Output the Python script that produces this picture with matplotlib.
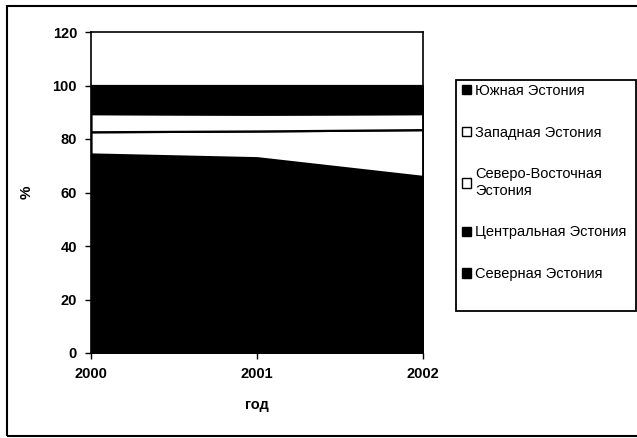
import numpy as np
import matplotlib.pyplot as plt
from matplotlib.patches import Patch, Rectangle

plt.rcParams['font.family'] = ['Liberation Sans', 'DejaVu Sans']

years = [2000, 2001, 2002]
regions = ['Северная Эстония', 'Центральная Эстония',
           'Северо-Восточная\nЭстония', 'Западная Эстония', 'Южная Эстония']
severnaya = [60.4, 59.5, 53.0]
centralnaya = [14.0, 13.5, 13.0]
severo_vostochnaya = [8.3, 10.0, 17.5]
zapadnaya = [6.8, 6.3, 6.0]
yuzhnaya = [10.5, 10.7, 10.5]
colors = ['black', 'black', 'white', 'white', 'black']

fig = plt.figure(figsize=(6.37, 4.38), dpi=100)
ax = fig.add_axes([91/637, 85/438, 332/637, 321/438])

ax.stackplot(years, severnaya, centralnaya, severo_vostochnaya, zapadnaya, yuzhnaya,
             colors=colors, edgecolor='black', linewidth=1.6)

ax.set_xlim(2000, 2002)
ax.set_ylim(0, 120)
ax.set_xticks(years)
ax.set_yticks(np.arange(0, 121, 20))
ax.tick_params(direction='out', length=4, width=1, labelsize=10.5, pad=6)
for lbl in ax.get_xticklabels() + ax.get_yticklabels():
    lbl.set_fontweight('bold')
for s in ax.spines.values():
    s.set_linewidth(1.2)
ax.set_xlabel('год', fontsize=10.5, fontweight='bold', labelpad=12)
ax.set_ylabel('%', fontsize=11, fontweight='bold', labelpad=14)

handles = [Patch(facecolor=c, edgecolor='black', linewidth=1) for c in colors]
leg = fig.legend(handles[::-1], regions[::-1], loc='upper left',
                 bbox_to_anchor=(462/637, 1 - 84/438), frameon=False,
                 fontsize=10.5, handlelength=0.6, handleheight=0.6, handletextpad=0.3,
                 labelspacing=1.9, borderpad=0.0, borderaxespad=0)

# legend frame (Excel style, extra space at the bottom)
fig.patches.append(Rectangle((456/637, 1 - 311/438), 180/637, 231/438,
                             transform=fig.transFigure, fill=False,
                             edgecolor='black', linewidth=1.3, zorder=5))

# outer chart border
fig.patches.append(Rectangle((7/637, 2/438), 640/637, 430/438, transform=fig.transFigure,
                             fill=False, edgecolor='black', linewidth=1.5, clip_on=False))

fig.savefig('out.png', dpi=100)
